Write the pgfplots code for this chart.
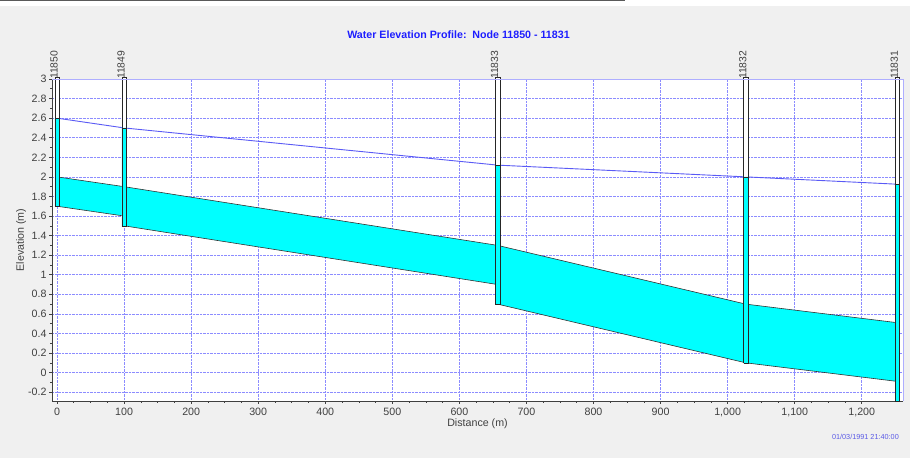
\documentclass[border=0pt]{standalone}
\usepackage{fontspec}
\setmainfont{Liberation Sans}
\usepackage{pgfplots}
\pgfplotsset{compat=1.18}

\definecolor{bg}{HTML}{F0F0F0}
\definecolor{titleblue}{HTML}{1E1EFF}
\definecolor{wlblue}{HTML}{5A5AF5}
\definecolor{gridblue}{HTML}{8C8CFF}
\definecolor{pipe}{HTML}{00FFFF}
\definecolor{txt}{HTML}{404040}
\definecolor{stamp}{HTML}{5A5AE6}

% node boxes: half width in distance units
\def\hw{3.3}
\tikzset{nodename/.style={rotate=90, anchor=west, inner sep=0pt, yshift=3bp,
  text=txt, font=\fontsize{10.4}{12}\selectfont}}

\begin{document}
\begin{tikzpicture}
\fill[bg] (0bp,0bp) rectangle (910bp,458bp);
\fill[white] (0bp,452bp) rectangle (910bp,458bp);
\fill[black!65] (0bp,456.5bp) rectangle (625bp,458bp);
\useasboundingbox (0bp,0bp) rectangle (910bp,458bp);

\begin{axis}[
  at={(52bp,57bp)}, anchor=south west,
  scale only axis, width=851bp, height=322bp,
  xmin=-7.5, xmax=1261.5, ymin=-0.29, ymax=3,
  axis x line*=bottom, axis y line*=left,
  axis line style={-, txt, line width=1bp},
  axis background/.style={fill=white},
  xtick={0,100,200,300,400,500,600,700,800,900,1000,1100,1200},
  ytick={-0.2,0,0.2,0.4,0.6,0.8,1,1.2,1.4,1.6,1.8,2,2.2,2.4,2.6,2.8,3},
  minor x tick num=3, minor y tick num=1,
  tick align=outside, major tick length=3bp, minor tick length=2bp,
  tick style={txt, line width=0.6bp},
  grid=major,
  major grid style={gridblue, densely dotted, line width=0.7bp},
  /pgf/number format/assume math mode=true,
  /pgf/number format/1000 sep={,},
  ticklabel style={font=\fontsize{10.7}{12}\selectfont, text=txt},
  xticklabel style={yshift=-1bp},
  yticklabel style={xshift=1bp},
  xlabel={Distance (m)}, ylabel={Elevation (m)},
  label style={font=\fontsize{10.7}{12}\selectfont, text=txt},
  xlabel style={at={(rel axis cs:0.5,0)}, anchor=center, yshift=-23bp},
  ylabel style={at={(rel axis cs:0,0.5)}, anchor=center, rotate=0, yshift=31bp},
  clip=false,
]
% links: invert and crown at each end
\addplot[fill=pipe, draw=black!80, line width=0.6bp] coordinates
  {(0,1.7) (100,1.6) (100,1.9) (0,2.0) (0,1.7)};
\addplot[fill=pipe, draw=black!80, line width=0.6bp] coordinates
  {(100,1.5) (657,0.9) (657,1.3) (100,1.9) (100,1.5)};
\addplot[fill=pipe, draw=black!80, line width=0.6bp] coordinates
  {(657,0.7) (1027,0.1) (1027,0.7) (657,1.3) (657,0.7)};
\addplot[fill=pipe, draw=black!80, line width=0.6bp] coordinates
  {(1027,0.1) (1253,-0.09) (1253,0.51) (1027,0.7) (1027,0.1)};

% water surface
\addplot[wlblue, line width=0.9bp] coordinates
  {(0,2.6) (100,2.5) (657,2.12) (1027,2.0) (1253,1.925)};

% node boxes (manholes): empty part, then water
\addplot[fill=white, draw=black!85, line width=0.6bp] coordinates
  {(-\hw,1.7) (\hw,1.7) (\hw,3.02) (-\hw,3.02) (-\hw,1.7)};
\addplot[fill=pipe, draw=black!85, line width=0.6bp] coordinates
  {(-\hw,1.7) (\hw,1.7) (\hw,2.6) (-\hw,2.6) (-\hw,1.7)};
\addplot[fill=white, draw=black!85, line width=0.6bp] coordinates
  {(100-\hw,1.5) (100+\hw,1.5) (100+\hw,3.02) (100-\hw,3.02) (100-\hw,1.5)};
\addplot[fill=pipe, draw=black!85, line width=0.6bp] coordinates
  {(100-\hw,1.5) (100+\hw,1.5) (100+\hw,2.5) (100-\hw,2.5) (100-\hw,1.5)};
\addplot[fill=white, draw=black!85, line width=0.6bp] coordinates
  {(657-\hw,0.7) (657+\hw,0.7) (657+\hw,3.02) (657-\hw,3.02) (657-\hw,0.7)};
\addplot[fill=pipe, draw=black!85, line width=0.6bp] coordinates
  {(657-\hw,0.7) (657+\hw,0.7) (657+\hw,2.12) (657-\hw,2.12) (657-\hw,0.7)};
\addplot[fill=white, draw=black!85, line width=0.6bp] coordinates
  {(1027-\hw,0.1) (1027+\hw,0.1) (1027+\hw,3.02) (1027-\hw,3.02) (1027-\hw,0.1)};
\addplot[fill=pipe, draw=black!85, line width=0.6bp] coordinates
  {(1027-\hw,0.1) (1027+\hw,0.1) (1027+\hw,2.0) (1027-\hw,2.0) (1027-\hw,0.1)};
\addplot[fill=white, draw=black!85, line width=0.6bp] coordinates
  {(1253-\hw,-0.29) (1253+\hw,-0.29) (1253+\hw,3.02) (1253-\hw,3.02) (1253-\hw,-0.29)};
\addplot[fill=pipe, draw=black!85, line width=0.6bp] coordinates
  {(1253-\hw,-0.29) (1253+\hw,-0.29) (1253+\hw,1.925) (1253-\hw,1.925) (1253-\hw,-0.29)};

\draw[gridblue!70, line width=0.6bp] (rel axis cs:0,1) -- (rel axis cs:1,1) -- (rel axis cs:1,0);

% node names
\node[nodename] at (axis cs:0,3) {11850};
\node[nodename] at (axis cs:100,3) {11849};
\node[nodename] at (axis cs:657,3) {11833};
\node[nodename] at (axis cs:1027,3) {11832};
\node[nodename] at (axis cs:1253,3) {11831};
\end{axis}

\node[anchor=base, font=\fontsize{10.7}{12}\selectfont\bfseries, text=titleblue]
  at (458.5bp,419.5bp) {Water Elevation Profile:\ \ Node 11850 - 11831};
\node[anchor=base east, inner sep=0pt, font=\fontsize{7.3}{8}\selectfont, text=stamp]
  at (899bp,18.5bp) {01/03/1991 21:40:00};
\end{tikzpicture}
\end{document}
